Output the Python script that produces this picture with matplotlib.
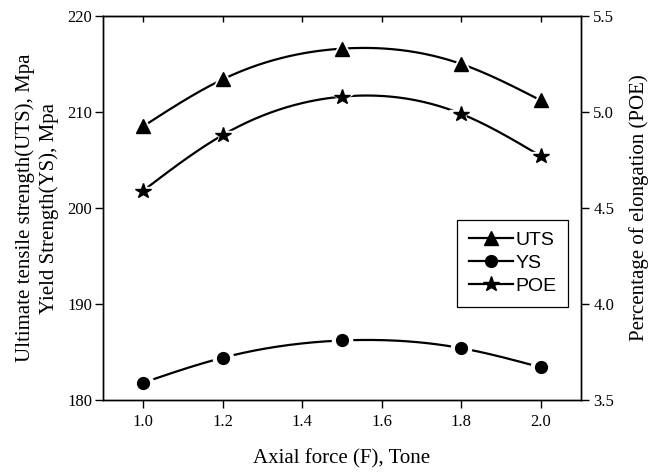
import matplotlib
matplotlib.use("Agg")
import matplotlib.pyplot as plt
from matplotlib.lines import Line2D
import numpy as np

# data
force = [1.0, 1.2, 1.5, 1.8, 2.0]
uts = [208.5, 213.4, 216.6, 215.0, 211.2]
ys = [181.8, 184.4, 186.2, 185.4, 183.4]
poe = [4.59, 4.88, 5.08, 4.99, 4.77]


def natural_spline(x, y, n=200):
    # plain natural cubic spline, just to draw the smooth connecting curve
    x = np.asarray(x, float)
    y = np.asarray(y, float)
    k = len(x)
    h = np.diff(x)
    A = np.zeros((k, k))
    b = np.zeros(k)
    A[0, 0] = A[-1, -1] = 1
    for i in range(1, k - 1):
        A[i, i - 1] = h[i - 1]
        A[i, i] = 2 * (h[i - 1] + h[i])
        A[i, i + 1] = h[i]
        b[i] = 6 * ((y[i + 1] - y[i]) / h[i] - (y[i] - y[i - 1]) / h[i - 1])
    M = np.linalg.solve(A, b)
    xs = np.linspace(x[0], x[-1], n)
    idx = np.clip(np.searchsorted(x, xs) - 1, 0, k - 2)
    x0, x1 = x[idx], x[idx + 1]
    hh = x1 - x0
    t0, t1 = x1 - xs, xs - x0
    ys_ = (M[idx] * t0**3 + M[idx + 1] * t1**3) / (6 * hh) \
        + (y[idx] / hh - M[idx] * hh / 6) * t0 \
        + (y[idx + 1] / hh - M[idx + 1] * hh / 6) * t1
    return xs, ys_


def series(a, x, y, marker, ms, gap):
    a.plot(*natural_spline(x, y), color='black', lw=1.6, zorder=2)
    # white blob under the marker so the curve stops short of it
    a.plot(x, y, ls='none', marker=marker, ms=ms + gap, color='white', zorder=3)
    a.plot(x, y, ls='none', marker=marker, ms=ms, color='black', zorder=4)


plt.rcParams['font.family'] = ['Liberation Serif', 'DejaVu Serif']

fig = plt.figure(figsize=(6.54, 4.72), dpi=100)
ax = fig.add_axes([103.3 / 654, 72 / 472, (580.7 - 103.3) / 654, 384 / 472])
ax2 = ax.twinx()

series(ax, force, uts, '^', 10, 6)
series(ax, force, ys, 'o', 8.5, 6)
series(ax2, force, poe, '*', 11.5, 6)

ax.set_xlim(0.9, 2.1)
ax.set_ylim(180, 220)
ax2.set_ylim(3.5, 5.5)
ax.set_xticks([1.0, 1.2, 1.4, 1.6, 1.8, 2.0])
ax.set_yticks([180, 190, 200, 210, 220])
ax2.set_yticks([3.5, 4.0, 4.5, 5.0, 5.5])
ax.xaxis.set_major_formatter(matplotlib.ticker.FormatStrFormatter('%.1f'))
ax2.yaxis.set_major_formatter(matplotlib.ticker.FormatStrFormatter('%.1f'))

ax.tick_params(axis='x', direction='out', length=6, width=1, labelsize=12, pad=4)
ax.tick_params(axis='y', direction='out', length=6, width=1, labelsize=12, pad=2)
ax2.tick_params(axis='y', direction='out', length=6, width=1, labelsize=12, pad=3)
secx = ax.secondary_xaxis('top')
secx.set_xticks([1.0, 1.2, 1.4, 1.6, 1.8, 2.0])
secx.tick_params(direction='in', length=4, width=1, labeltop=False)
for a in (ax, ax2):
    for s in a.spines.values():
        s.set_linewidth(1.0)

ax.set_xlabel('Axial force (F), Tone', fontsize=15, labelpad=14)
ax.set_ylabel('Ultimate tensile strength(UTS), Mpa\nYield Strength(YS), Mpa',
              fontsize=15, labelpad=6, linespacing=1.25)
ax2.set_ylabel('Percentage of elongation (POE)', fontsize=15, labelpad=11)

handles = [
    Line2D([], [], color='black', lw=1.6, marker='^', ms=10),
    Line2D([], [], color='black', lw=1.6, marker='o', ms=8.5),
    Line2D([], [], color='black', lw=1.6, marker='*', ms=11.5),
]
leg = ax2.legend(handles, ['UTS', 'YS', 'POE'], loc='upper left',
                 bbox_to_anchor=(0.741, 0.469), borderaxespad=0,
                 fancybox=False, framealpha=1, edgecolor='black',
                 handlelength=2.3, handletextpad=0.1, labelspacing=0.28,
                 borderpad=0.6, prop={'family': 'Liberation Sans', 'size': 14})
leg.get_frame().set_linewidth(0.9)

fig.savefig('out.png', dpi=100)
